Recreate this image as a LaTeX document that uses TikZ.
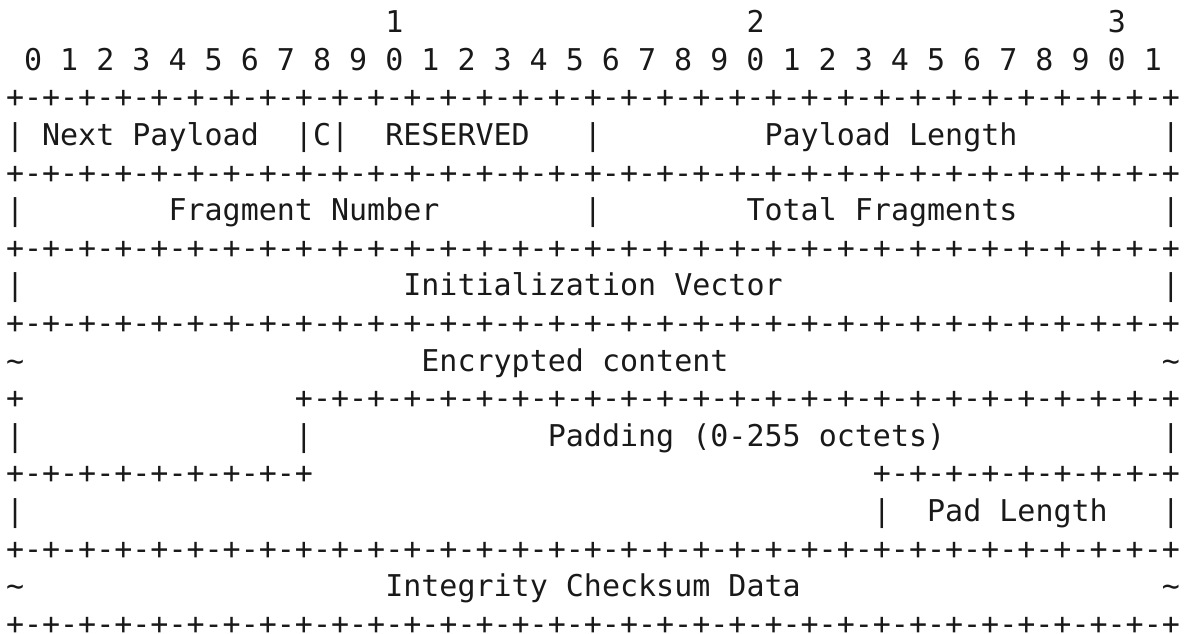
\documentclass[tikz,border=0pt]{standalone}
\usepackage{fontspec}
\setmonofont{DejaVu Sans Mono}
\newcommand\gp{+-+-+-+-+-+-+-+-}
\newcommand\tld{\symbol{126}}
\begin{document}
\begin{tikzpicture}[x=9.031pt,y=-18.8pt,
  txt/.style={anchor=base west,inner sep=0pt,outer sep=0pt,
    font=\ttfamily\fontsize{15pt}{18pt}\selectfont\frenchspacing,text=black!90}]
\useasboundingbox (-3pt,16.3pt) rectangle (589pt,-300.2pt);
% row 0, 1: bit numbers
\node[txt] (ten)    at (21,0) {1};
\node[txt] (twenty) at (41,0) {2};
\node[txt] (thirty) at (61,0) {3};
\node[txt] (bits)   at (1,1) {0 1 2 3 4 5 6 7 8 9 0 1 2 3 4 5 6 7 8 9 0 1 2 3 4 5 6 7 8 9 0 1};
% separators
\node[txt] (s2)  at (0,2)  {\gp\gp\gp\gp+};
\node[txt] (s4)  at (0,4)  {\gp\gp\gp\gp+};
\node[txt] (s6)  at (0,6)  {\gp\gp\gp\gp+};
\node[txt] (s8)  at (0,8)  {\gp\gp\gp\gp+};
\node[txt] (s14) at (0,14) {\gp\gp\gp\gp+};
\node[txt] (s16) at (0,16) {\gp\gp\gp\gp+};
% row 3
\node[txt] (r3a) at (0,3)  {|};
\node[txt] (np)  at (2,3)  {Next Payload};
\node[txt] (r3b) at (16,3) {|C|};
\node[txt] (res) at (21,3) {RESERVED};
\node[txt] (r3c) at (32,3) {|};
\node[txt] (pl)  at (42,3) {Payload Length};
\node[txt] (r3d) at (64,3) {|};
% row 5
\node[txt] (r5a) at (0,5)  {|};
\node[txt] (fn)  at (9,5)  {Fragment Number};
\node[txt] (r5b) at (32,5) {|};
\node[txt] (tf)  at (41,5) {Total Fragments};
\node[txt] (r5c) at (64,5) {|};
% row 7
\node[txt] (r7a) at (0,7)  {|};
\node[txt] (iv)  at (22,7) {Initialization Vector};
\node[txt] (r7b) at (64,7) {|};
% row 9
\node[txt] (r9a) at (0,9)  {\tld};
\node[txt] (ec)  at (23,9) {Encrypted content};
\node[txt] (r9b) at (64,9) {\tld};
% row 10
\node[txt] (r10a) at (0,10)  {+};
\node[txt] (r10b) at (16,10) {\gp\gp\gp+};
% row 11
\node[txt] (r11a) at (0,11)  {|};
\node[txt] (r11b) at (16,11) {|};
\node[txt] (pad)  at (30,11) {Padding (0-255 octets)};
\node[txt] (r11c) at (64,11) {|};
% row 12
\node[txt] (r12a) at (0,12)  {\gp+};
\node[txt] (r12b) at (48,12) {\gp+};
% row 13
\node[txt] (r13a) at (0,13)  {|};
\node[txt] (r13b) at (48,13) {|};
\node[txt] (padl) at (51,13) {Pad Length};
\node[txt] (r13c) at (64,13) {|};
% row 15
\node[txt] (r15a) at (0,15)  {\tld};
\node[txt] (icd)  at (21,15) {Integrity Checksum Data};
\node[txt] (r15b) at (64,15) {\tld};
\end{tikzpicture}
\end{document}
